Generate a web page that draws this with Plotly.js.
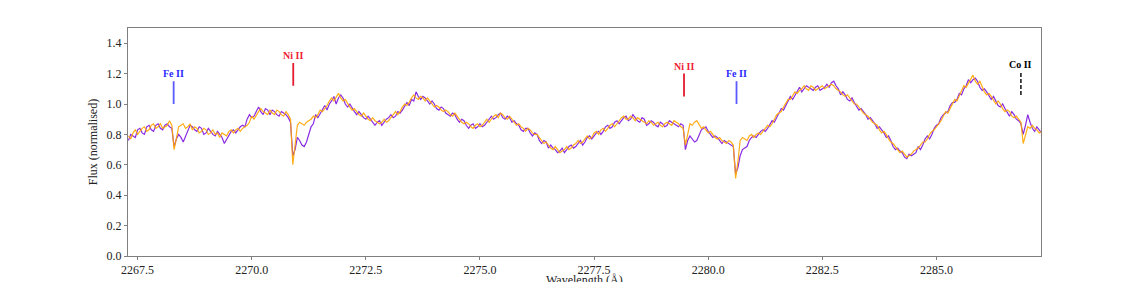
<!DOCTYPE html>
<html>
<head>
<meta charset="utf-8">
<script src="https://cdn.plot.ly/plotly-3.0.1.min.js"></script>
<style>html,body{margin:0;padding:0;background:#fff;overflow:hidden;}#chart{width:1140px;height:282px;}</style>
</head>
<body>
<div id="chart"></div>
<script>
// Wavelength grid (Å)
const wlStart = 2267.3;
const wlStep = 0.05;

// Series 1 (purple)
const fluxPurple = [
0.76,0.80,0.79,0.78,0.83,0.84,0.81,0.80,0.85,0.86,0.83,0.82,0.86,0.87,0.84,0.83,0.86,0.87,0.85,0.84,
0.72,0.77,0.80,0.78,0.75,0.79,0.83,0.86,0.85,0.83,0.82,0.85,0.84,0.80,0.81,0.84,0.82,0.80,0.79,0.82,
0.80,0.78,0.74,0.77,0.80,0.82,0.83,0.81,0.83,0.85,0.86,0.85,0.90,0.93,0.91,0.92,0.95,0.98,0.95,0.93,
0.97,0.96,0.93,0.96,0.95,0.93,0.92,0.95,0.94,0.93,0.91,0.88,0.66,0.70,0.78,0.76,0.73,0.72,0.75,0.80,
0.85,0.87,0.93,0.91,0.94,0.97,0.99,0.96,1.00,1.02,1.05,1.00,1.04,1.06,1.04,1.00,0.98,1.00,0.97,0.95,
0.93,0.95,0.93,0.91,0.90,0.92,0.90,0.88,0.86,0.88,0.89,0.86,0.88,0.90,0.91,0.93,0.91,0.92,0.95,0.94,
0.96,0.99,1.01,0.99,1.03,1.02,1.08,1.05,1.03,1.05,1.04,1.02,1.00,1.02,1.00,0.97,0.96,0.98,0.97,0.94,
0.93,0.92,0.94,0.93,0.90,0.88,0.90,0.89,0.86,0.84,0.86,0.87,0.84,0.85,0.87,0.85,0.86,0.88,0.90,0.92,
0.90,0.91,0.93,0.94,0.91,0.90,0.92,0.91,0.88,0.89,0.87,0.86,0.83,0.82,0.84,0.84,0.81,0.79,0.81,0.80,
0.76,0.74,0.76,0.75,0.71,0.73,0.71,0.70,0.68,0.69,0.71,0.68,0.70,0.72,0.73,0.71,0.72,0.74,0.76,0.73,
0.75,0.78,0.79,0.77,0.79,0.81,0.82,0.80,0.82,0.85,0.86,0.84,0.85,0.88,0.89,0.87,0.89,0.91,0.92,0.89,
0.90,0.93,0.91,0.89,0.88,0.91,0.90,0.86,0.87,0.89,0.88,0.86,0.85,0.88,0.87,0.85,0.86,0.89,0.88,0.87,
0.86,0.85,0.87,0.86,0.70,0.76,0.79,0.77,0.75,0.76,0.80,0.83,0.84,0.85,0.82,0.80,0.78,0.79,0.78,0.76,
0.74,0.76,0.75,0.74,0.73,0.72,0.54,0.58,0.66,0.70,0.71,0.72,0.76,0.78,0.79,0.78,0.80,0.82,0.83,0.82,
0.84,0.87,0.89,0.88,0.91,0.95,0.97,0.96,0.99,1.03,1.05,1.03,1.06,1.09,1.11,1.08,1.10,1.12,1.11,1.10,
1.09,1.11,1.12,1.09,1.10,1.11,1.13,1.11,1.14,1.15,1.12,1.10,1.06,1.08,1.06,1.03,1.02,1.04,1.01,0.98,
0.96,0.97,0.95,0.93,0.90,0.91,0.89,0.87,0.84,0.85,0.83,0.81,0.78,0.79,0.76,0.72,0.70,0.71,0.69,0.68,
0.65,0.64,0.67,0.66,0.67,0.68,0.72,0.70,0.73,0.77,0.79,0.77,0.80,0.84,0.86,0.87,0.91,0.93,0.94,0.95,
0.99,1.01,1.01,1.03,1.07,1.06,1.10,1.12,1.16,1.14,1.16,1.17,1.15,1.11,1.09,1.10,1.08,1.05,1.03,1.05,
1.02,0.99,0.98,1.00,0.97,0.94,0.92,0.95,0.93,0.90,0.89,0.87,0.80,0.86,0.93,0.88,0.84,0.82,0.85,0.83,
0.81
];

// Series 2 (orange)
const fluxOrange = [
0.79,0.77,0.81,0.83,0.80,0.82,0.84,0.85,0.82,0.83,0.86,0.87,0.84,0.85,0.87,0.84,0.85,0.86,0.89,0.86,
0.70,0.78,0.85,0.86,0.87,0.84,0.85,0.87,0.83,0.85,0.84,0.81,0.82,0.84,0.83,0.80,0.81,0.83,0.80,0.81,
0.78,0.81,0.80,0.79,0.82,0.83,0.81,0.83,0.84,0.82,0.84,0.85,0.86,0.88,0.92,0.90,0.93,0.95,0.97,0.95,
0.94,0.93,0.96,0.94,0.93,0.96,0.95,0.93,0.92,0.95,0.93,0.90,0.60,0.72,0.86,0.88,0.87,0.86,0.88,0.89,
0.90,0.92,0.91,0.93,0.96,0.95,0.97,0.99,1.02,1.04,1.02,1.05,1.07,1.04,1.02,1.03,1.00,0.98,0.96,0.97,
0.95,0.93,0.92,0.94,0.92,0.90,0.89,0.91,0.89,0.88,0.87,0.88,0.90,0.88,0.89,0.91,0.93,0.95,0.93,0.95,
0.98,1.00,0.99,1.01,1.04,1.06,1.04,1.03,1.05,1.04,1.02,1.04,1.02,1.00,0.98,0.99,0.98,0.96,0.95,0.96,
0.95,0.93,0.92,0.94,0.92,0.90,0.88,0.87,0.88,0.87,0.85,0.84,0.86,0.87,0.85,0.86,0.88,0.90,0.88,0.90,
0.92,0.93,0.91,0.94,0.93,0.91,0.90,0.92,0.90,0.88,0.86,0.87,0.85,0.84,0.82,0.84,0.83,0.81,0.80,0.80,
0.78,0.76,0.74,0.75,0.73,0.71,0.70,0.72,0.70,0.68,0.69,0.70,0.72,0.70,0.71,0.73,0.74,0.76,0.74,0.75,
0.77,0.79,0.77,0.78,0.81,0.82,0.80,0.83,0.84,0.82,0.84,0.86,0.87,0.85,0.87,0.89,0.91,0.92,0.90,0.90,
0.92,0.91,0.89,0.91,0.90,0.89,0.88,0.87,0.89,0.88,0.86,0.87,0.88,0.86,0.85,0.87,0.88,0.87,0.86,0.89,
0.88,0.87,0.85,0.84,0.73,0.80,0.87,0.86,0.88,0.89,0.86,0.84,0.85,0.83,0.81,0.82,0.80,0.78,0.77,0.78,
0.76,0.75,0.74,0.76,0.75,0.73,0.51,0.62,0.76,0.78,0.77,0.76,0.79,0.80,0.78,0.80,0.81,0.80,0.82,0.84,
0.86,0.85,0.87,0.90,0.93,0.94,0.95,0.98,1.01,1.03,1.03,1.06,1.08,1.07,1.09,1.10,1.12,1.10,1.09,1.12,
1.11,1.09,1.10,1.11,1.12,1.10,1.11,1.12,1.13,1.12,1.10,1.09,1.08,1.06,1.05,1.06,1.04,1.02,1.00,1.00,
0.98,0.96,0.94,0.93,0.92,0.90,0.88,0.87,0.86,0.83,0.81,0.82,0.80,0.77,0.75,0.74,0.72,0.70,0.68,0.69,
0.67,0.65,0.66,0.67,0.69,0.70,0.71,0.73,0.75,0.75,0.77,0.80,0.82,0.83,0.85,0.87,0.89,0.92,0.95,0.94,
0.97,1.00,1.03,1.02,1.05,1.09,1.12,1.11,1.14,1.16,1.19,1.15,1.13,1.15,1.11,1.08,1.06,1.07,1.05,1.02,
1.00,1.02,1.00,0.97,0.95,0.96,0.95,0.92,0.91,0.92,0.90,0.88,0.74,0.80,0.85,0.84,0.86,0.84,0.83,0.81,
0.82
];

// Line identifications
const lineNames  = ["Fe II", "Ni II", "Ni II", "Fe II", "Co II"];
const lineWl     = [2268.29, 2270.91, 2279.47, 2280.62, 2286.85];
const lineBottom = [1.00, 1.12, 1.05, 1.00, 1.06];
const lineTop    = [1.15, 1.27, 1.20, 1.15, 1.21];
const labelY     = [1.20, 1.32, 1.25, 1.20, 1.26];
const lineColors = ["#5a5aff", "#e41a2e", "#e41a2e", "#5a5aff", "#000000"];
const textColors = ["#2a2aff", "#ee2233", "#ee2233", "#2a2aff", "#000000"];
const lineDash   = ["solid", "solid", "solid", "solid", "4px,2px"];

const xTicks = [2267.5, 2270.0, 2272.5, 2275.0, 2277.5, 2280.0, 2282.5, 2285.0];
const yTicks = [0.0, 0.2, 0.4, 0.6, 0.8, 1.0, 1.2, 1.4];

const wl = fluxPurple.map((_, i) => +(wlStart + i * wlStep).toFixed(3));

const font = "Liberation Serif, Times New Roman, serif";

const traces = [
  {x: wl, y: fluxPurple, mode: "lines", line: {color: "#8a2be2", width: 1.2}, hoverinfo: "skip"},
  {x: wl, y: fluxOrange, mode: "lines", line: {color: "#ffa500", width: 1.2}, opacity: 0.9, hoverinfo: "skip"}
];

const shapes = lineWl.map((w, i) => ({
  type: "line", xref: "x", yref: "y", x0: w, x1: w, y0: lineBottom[i], y1: lineTop[i],
  line: {color: lineColors[i], width: i === 4 ? 1.4 : 1.8, dash: lineDash[i]}
}));

const annotations = lineWl.map((w, i) => ({
  x: w, y: labelY[i], xref: "x", yref: "y", text: "<b>" + lineNames[i] + "</b>", showarrow: false,
  xanchor: "center", yanchor: "middle",
  font: {family: font, size: 10, color: textColors[i]}
}));

// x-axis title (sits partly below the visible canvas, as in the reference)
annotations.push({
  x: 0.5, y: -0.064, xref: "paper", yref: "paper", text: "Wavelength (Å)", showarrow: false,
  xanchor: "center", yanchor: "top", font: {family: font, size: 12, color: "#222"}
});

const axisCommon = {
  showline: true, mirror: true, linecolor: "#7f7f7f", linewidth: 1,
  showgrid: false, zeroline: false, ticks: "outside", ticklen: 3, tickcolor: "#7f7f7f",
  tickfont: {family: font, size: 12, color: "#222"}
};

const layout = {
  width: 1140, height: 282,
  margin: {l: 128, r: 99, t: 28, b: 26},
  paper_bgcolor: "#fff", plot_bgcolor: "#fff",
  showlegend: false,
  xaxis: Object.assign({}, axisCommon, {
    range: [2267.29, 2287.29], tickvals: xTicks, ticktext: xTicks.map(v => v.toFixed(1))
  }),
  yaxis: Object.assign({}, axisCommon, {
    range: [0, 1.5], tickvals: yTicks, ticktext: yTicks.map(v => v.toFixed(1)),
    title: {text: "Flux (normalised)", font: {family: font, size: 12, color: "#222"}, standoff: 6}
  }),
  shapes: shapes,
  annotations: annotations
};

Plotly.newPlot("chart", traces, layout, {staticPlot: true, displayModeBar: false});
</script>
</body>
</html>
